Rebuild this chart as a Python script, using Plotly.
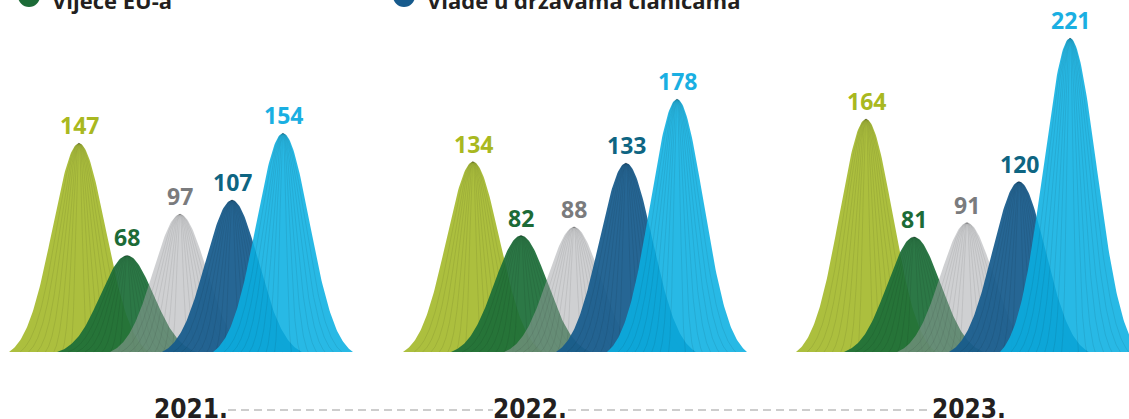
import numpy as np
import plotly.graph_objects as go

# ---------------- data ----------------
years = ["2021.", "2022.", "2023."]
legend_labels = ["Vijeće EU-a", "Vlade u državama članicama"]
olive_vals = [147, 134, 164]
dkgreen_vals = [68, 82, 81]
gray_vals = [97, 88, 91]
dkblue_vals = [107, 133, 120]
ltblue_vals = [154, 178, 221]

# ---------------- styling / layout ----------------
W, H = 1129, 419
BASE_PX = 352          # baseline pixel row
SCALE = 1.42           # pixels per unit
group_first_peak = [79, 473, 866]
peak_offsets = [0, 48, 101, 153, 204]
SIGMA = 26.5
HALF = 70.0

series_vals = [olive_vals, dkgreen_vals, gray_vals, dkblue_vals, ltblue_vals]
fill_colors = [
    "rgba(172,191,62,1)",
    "rgba(28,110,56,0.93)",
    "rgba(160,162,165,0.5)",
    "rgba(22,90,140,0.93)",
    "rgba(10,175,225,0.88)",
]
text_colors = ["#A9B820", "#1C6B37", "#7A7B7D", "#0E6582", "#1AAFE2"]

ymin = -(H - BASE_PX) / SCALE
ymax = BASE_PX / SCALE

fig = go.Figure()

def curve(c, h, half):
    s = SIGMA * half / HALF
    x = np.linspace(c - half, c + half, 161)
    g = np.exp(-0.5 * ((x - c) / s) ** 2)
    g0 = np.exp(-0.5 * (half / s) ** 2)
    y = h * (g - g0) / (1 - g0)
    return x, y

for g in range(len(years)):
    for i, vals in enumerate(series_vals):
        c = group_first_peak[g] + peak_offsets[i]
        v = vals[g]
        x, y = curve(c, v, HALF)
        fig.add_trace(go.Scatter(
            x=np.concatenate([x, [x[-1], x[0]]]),
            y=np.concatenate([y, [0, 0]]),
            fill="toself", fillcolor=fill_colors[i],
            mode="lines", line=dict(width=0), hoverinfo="skip",
            showlegend=False))
        # fine stripes converging to the peak
        for k in [0.12, 0.24, 0.36, 0.48, 0.6, 0.72, 0.84]:
            xs, ys = curve(c, v, HALF * k)
            fig.add_trace(go.Scatter(
                x=xs, y=ys, mode="lines",
                line=dict(width=0.7, color="rgba(0,0,0,0.11)"),
                hoverinfo="skip", showlegend=False))
        fig.add_annotation(
            x=c, y=v, xref="x", yref="y", text=f"<b>{v}</b>",
            showarrow=False, yanchor="bottom", yshift=0,
            font=dict(family="Open Sans", size=23, color=text_colors[i]))

# year labels with dashed connectors
year_x = [191, 530, 969]
year_y = (BASE_PX - 409) / SCALE
for yx, yl in zip(year_x, years):
    fig.add_annotation(
        x=yx, y=year_y, xref="x", yref="y", text=f"<b>{yl}</b>",
        showarrow=False, yanchor="middle",
        font=dict(family="Liberation Sans Narrow, DejaVu Sans Condensed, sans-serif",
                  size=26, color="#231F20"))
dash_y = (BASE_PX - 410) / SCALE
for x0, x1 in [(228, 493), (568, 932)]:
    fig.add_shape(type="line", x0=x0, x1=x1, y0=dash_y, y1=dash_y,
                  xref="x", yref="y",
                  line=dict(color="#BDBDBD", width=1.5, dash="8px,5px"))

# partially visible legend at the top
leg_x = [29, 404]
leg_colors = ["#1C6B37", "#165A8C"]
for lx, lc, lt in zip(leg_x, leg_colors, legend_labels):
    fig.add_shape(type="circle", xref="x", yref="paper",
                  x0=lx - 11, x1=lx + 11,
                  y0=1 - 7 / H, y1=1 + 15 / H,
                  fillcolor=lc, line=dict(width=0))
    fig.add_annotation(
        x=lx + 21, y=1, xref="x", yref="paper", text=f"<b>{lt}</b>",
        showarrow=False, xanchor="left", yanchor="middle", yshift=0,
        font=dict(family="Open Sans", size=22, color="#231F20"))

fig.update_layout(
    width=W, height=H, margin=dict(l=0, r=0, t=0, b=0),
    paper_bgcolor="white", plot_bgcolor="white",
    xaxis=dict(range=[0, W], visible=False, fixedrange=True),
    yaxis=dict(range=[ymin, ymax], visible=False, fixedrange=True),
    showlegend=False,
)

fig.write_html("out.html", config={"displayModeBar": False},
               post_script="document.body.style.margin='0';document.body.style.overflow='hidden';")
